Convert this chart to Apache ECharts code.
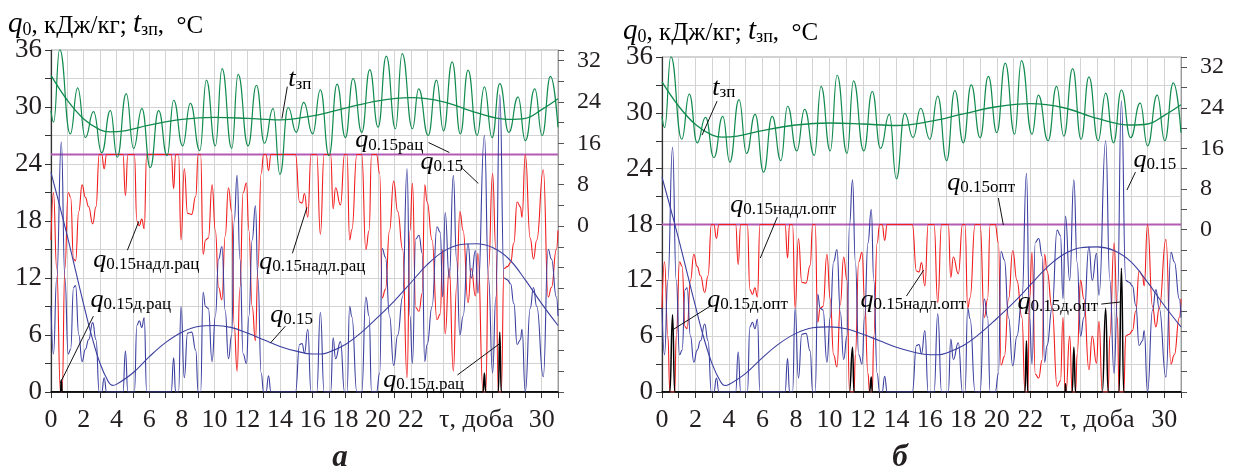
<!DOCTYPE html>
<html><head><meta charset="utf-8">
<script src="https://cdn.jsdelivr.net/npm/echarts@6/dist/echarts.min.js"></script>
<style>html,body{margin:0;padding:0;background:#fff}#c{width:1233px;height:471px}</style>
</head><body><div id="c"></div>
<script>
// ---------------- data (days, values) ----------------
const xLabelDays = [0,2,4,6,8,10,12,14,16,18,20,22,26,30];
const xLabelTexts = ['0','2','4','6','8','10','12','14','16','18','20','22','τ, доба','30'];
const leftTicks = [0,6,12,18,24,30,36];
const rightTicks = [0,8,16,24,32];

// t_зп (right axis), daily oscillation: troughs and peaks
const tzp = [[0,22.3],[0.16,20.1],[0.53,34.1],[1.18,17.8],[1.63,26.7],[2.1,17.1],[2.6,22.1],[3.1,14.2],[3.63,22.3],[4.05,13.3],[4.6,25.6],[5.05,15],[5.56,22.7],[6.07,11.3],[6.58,22.3],[7.1,13.6],[7.5,24.3],[8.05,15.5],[8.52,23.7],[9.1,14.6],[9.5,28.2],[10.05,15.5],[10.46,30.4],[11.05,15],[11.44,29.3],[12.05,15.5],[12.56,27.2],[13.05,16],[13.58,22.7],[14.0,10],[14.5,22.9],[15.0,18.1],[15.45,23.9],[16.0,17.8],[16.47,26.3],[17.0,13.6],[17.49,27.4],[18.0,17.1],[18.47,28.5],[19.0,18.1],[19.49,30.2],[20.0,19.1],[20.5,32.8],[21.06,18.8],[21.47,33.3],[22.1,18.8],[22.48,26.5],[23.06,17.5],[23.57,28.2],[24.0,18.4],[24.53,31.7],[25.03,17.8],[25.5,30.1],[26.05,17.5],[26.5,26.9],[26.97,17.1],[27.44,27.5],[27.99,18.1],[28.56,24.9],[29.0,16.5],[29.58,26.5],[30.03,17.5],[30.54,28.9],[31,19.1]];
// t_зп smoothed (right axis)
const tzpSmooth = [[0,29.1],[1,24.3],[2,20.7],[3,18.6],[3.6,18.2],[4.5,18.4],[6,19.5],[8,20.6],[10,21.0],[12,20.8],[14,20.5],[16,21.3],[18,22.8],[20,24.2],[22,24.8],[24,24.0],[26,21.9],[28,20.6],[29,20.8],[30,22.5],[31,24.6]];
// q0.15 (left axis)
const q015 = [[0,9],[0.15,4],[0.35,12],[0.63,26.3],[0.85,12],[1.05,4],[1.2,4.5],[1.38,11],[1.5,11.2],[1.7,6],[1.9,3.2],[2.1,4.5],[2.3,5.5],[2.55,7.3],[2.75,5.5],[2.95,0],[3.1,0],[3.25,1.5],[3.4,0],[4.4,0],[4.55,4.3],[4.7,0],[5.1,0],[5.25,7],[5.4,7.5],[5.55,6.8],[5.7,7.8],[5.85,0],[7.35,0],[7.5,3.6],[7.62,0],[7.8,0],[7.95,9],[8.15,1.5],[8.35,6.2],[8.6,6.3],[8.85,4.4],[9.0,0],[9.15,0],[9.3,10.5],[9.45,9],[9.62,8.8],[9.85,3.2],[10.05,8],[10.25,14],[10.45,15.3],[10.65,8.6],[10.85,3.5],[11.05,6],[11.2,18],[11.38,22.8],[11.55,14],[11.75,4],[11.95,3],[12.1,8],[12.3,16],[12.5,19.6],[12.65,12],[12.85,2],[13.0,0],[13.15,0],[13.3,1.7],[13.45,0],[14.95,0],[15.2,5],[15.35,5.1],[15.5,4.1],[15.7,6.6],[15.9,0],[16.25,0],[16.47,8.4],[16.7,0],[17.1,0],[17.25,5.7],[17.4,3.5],[17.7,5.3],[17.95,0],[18.1,0],[18.26,9],[18.4,7.9],[18.7,0],[19.0,0],[19.25,10],[19.45,8],[19.6,0],[19.9,0],[20.1,2],[20.25,15.1],[20.45,14.2],[20.7,8],[20.95,2.8],[21.2,6],[21.5,10],[21.77,23.5],[21.95,8],[22.1,3],[22.3,16.1],[22.5,16.5],[22.7,14.6],[22.85,3.2],[23.0,5],[23.3,9],[23.6,17.4],[23.8,16.8],[23.95,10],[24.1,18.9],[24.35,12],[24.6,22.8],[24.8,13.9],[25.0,6],[25.2,8],[25.5,15.6],[25.7,12],[25.95,14.9],[26.1,10.4],[26.5,27],[26.75,12],[27.0,2],[27.2,10],[27.44,31.3],[27.7,12],[27.9,11.8],[28.1,11.4],[28.3,9.3],[28.5,5],[28.7,5.5],[28.8,6.6],[29.0,0],[29.3,8.8],[29.5,11],[29.7,9],[30.1,1.6],[30.4,15],[30.6,14],[30.9,10],[31,8]];
// q0.15 smoothed (left axis)
const q015Smooth = [[0,23.1],[0.5,19.8],[1,16.4],[1.5,12.8],[2,9.2],[2.5,5.8],[3,3.0],[3.5,1.1],[3.75,0.7],[4,0.8],[5,2.0],[6,3.7],[7,5.2],[8,6.3],[9,6.9],[10,7.0],[11,6.8],[12,6.2],[13,5.5],[14,4.8],[15,4.3],[16,4.0],[16.5,4.0],[17,4.2],[18,5.0],[19,6.3],[20,7.9],[21,9.6],[22,11.5],[23,13.4],[24,14.8],[25,15.5],[26,15.6],[27,15.2],[28,14.0],[29,11.8],[30,9.3],[31,7.0]];
// panel a: rational level, excess, deficit
const qRacLevel = [[0,25],[31,25]];
const qNadlRac = [[0,16],[0.15,21],[0.35,13],[0.58,0],[0.68,0],[0.85,13],[1.05,21],[1.2,20.5],[1.38,14],[1.5,13.8],[1.7,19],[1.9,21.8],[2.1,20.5],[2.3,19.5],[2.55,17.7],[2.75,19.5],[2.95,25],[3.1,25],[3.25,23.5],[3.4,25],[4.4,25],[4.55,20.7],[4.7,25],[5.1,25],[5.25,18],[5.4,17.5],[5.55,18.2],[5.7,17.2],[5.85,25],[7.35,25],[7.5,21.4],[7.62,25],[7.8,25],[7.95,16],[8.15,23.5],[8.35,18.8],[8.6,18.7],[8.85,20.6],[9.0,25],[9.15,25],[9.3,14.5],[9.45,16],[9.62,16.2],[9.85,21.8],[10.05,17],[10.25,11],[10.45,9.7],[10.65,16.4],[10.85,21.5],[11.05,19],[11.2,7],[11.38,2.2],[11.55,11],[11.75,21],[11.95,22],[12.1,17],[12.3,9],[12.5,5.4],[12.65,13],[12.85,23],[13.0,25],[13.15,25],[13.3,23.3],[13.45,25],[14.95,25],[15.2,20],[15.35,19.9],[15.5,20.9],[15.7,18.4],[15.9,25],[16.25,25],[16.47,16.6],[16.7,25],[17.1,25],[17.25,19.3],[17.4,21.5],[17.7,19.7],[17.95,25],[18.1,25],[18.26,16],[18.4,17.1],[18.7,25],[19.0,25],[19.25,15],[19.45,17],[19.6,25],[19.9,25],[20.1,23],[20.25,9.9],[20.45,10.8],[20.7,17],[20.95,22.2],[21.2,19],[21.5,15],[21.77,1.5],[21.95,17],[22.1,22],[22.3,8.9],[22.5,8.5],[22.7,10.4],[22.85,21.8],[23.0,20],[23.3,16],[23.6,7.6],[23.8,8.2],[23.95,15],[24.1,6.1],[24.35,13],[24.6,2.2],[24.8,11.1],[25.0,19],[25.2,17],[25.5,9.4],[25.7,13],[25.95,10.1],[26.1,14.6],[26.42,0],[26.58,0],[26.75,13],[27.0,23],[27.2,15],[27.35,0],[27.53,0],[27.7,13],[27.9,13.2],[28.1,13.6],[28.3,15.7],[28.5,20],[28.7,19.5],[28.8,18.4],[29.0,25],[29.3,16.2],[29.5,14],[29.7,16],[30.1,23.4],[30.4,10],[30.6,11],[30.9,15],[31,17]];
const qDRac = [[0,0],[0.58,0],[0.63,1.3],[0.68,0],[26.42,0],[26.5,2],[26.58,0],[27.35,0],[27.44,6.3],[27.53,0],[31,0]];
// panel b: optimal level, excess, deficit
const qOptLevel = [[0,18],[31,18]];
const qNadlOpt = [[0,9],[0.15,14],[0.35,6],[0.47,0],[0.76,0],[0.85,6],[1.05,14],[1.2,13.5],[1.38,7],[1.5,6.8],[1.7,12],[1.9,14.8],[2.1,13.5],[2.3,12.5],[2.55,10.7],[2.75,12.5],[2.95,18],[3.1,18],[3.25,16.5],[3.4,18],[4.4,18],[4.55,13.7],[4.7,18],[5.1,18],[5.25,11],[5.4,10.5],[5.55,11.2],[5.7,10.2],[5.85,18],[7.35,18],[7.5,14.4],[7.62,18],[7.8,18],[7.95,9],[8.15,16.5],[8.35,11.8],[8.6,11.7],[8.85,13.6],[9.0,18],[9.15,18],[9.3,7.5],[9.45,9],[9.62,9.2],[9.85,14.8],[10.05,10],[10.25,4],[10.45,2.7],[10.65,9.4],[10.85,14.5],[11.05,12],[11.2,0],[11.47,0],[11.55,4],[11.75,14],[11.95,15],[12.1,10],[12.3,2],[12.4,0],[12.56,0],[12.65,6],[12.85,16],[13.0,18],[13.15,18],[13.3,16.3],[13.45,18],[14.95,18],[15.2,13],[15.35,12.9],[15.5,13.9],[15.7,11.4],[15.9,18],[16.25,18],[16.47,9.6],[16.7,18],[17.1,18],[17.25,12.3],[17.4,14.5],[17.7,12.7],[17.95,18],[18.1,18],[18.26,9],[18.4,10.1],[18.7,18],[19.0,18],[19.25,8],[19.45,10],[19.6,18],[19.9,18],[20.1,16],[20.25,2.9],[20.45,3.8],[20.7,10],[20.95,15.2],[21.2,12],[21.5,8],[21.68,0],[21.85,0],[21.95,10],[22.1,15],[22.3,1.9],[22.5,1.5],[22.7,3.4],[22.85,14.8],[23.0,13],[23.3,9],[23.6,0.6],[23.8,1.2],[23.95,8],[24.08,0],[24.13,0],[24.35,6],[24.5,0],[24.7,0],[24.8,4.1],[25.0,12],[25.2,10],[25.5,2.4],[25.7,6],[25.95,3.1],[26.1,7.6],[26.3,0],[26.65,0],[26.75,6],[27.0,16],[27.2,8],[27.3,0],[27.58,0],[27.7,6],[27.9,6.2],[28.1,6.6],[28.3,8.7],[28.5,13],[28.7,12.5],[28.8,11.4],[29.0,18],[29.3,9.2],[29.5,7],[29.7,9],[30.1,16.4],[30.4,3],[30.6,4],[30.9,8],[31,10]];
const qDOpt = [[0,0],[0.47,0],[0.63,8.3],[0.76,0],[11.2,0],[11.38,4.8],[11.47,0],[12.4,0],[12.5,1.6],[12.56,0],[21.68,0],[21.77,5.5],[21.85,0],[24.08,0],[24.1,0.9],[24.13,0],[24.5,0],[24.6,4.8],[24.7,0],[26.3,0],[26.5,9],[26.65,0],[27.3,0],[27.44,13.3],[27.58,0],[31,0]];

// ---------------- annotations (data coordinates, left axis) ----------------
const notes = [
  {p:0, m:'t', s:'зп', at:[14.51,32.88], line:[[14.45,32.14],[14.12,28.78]]},
  {p:0, m:'q', s:'0.15рац', at:[18.61,26.47], line:[[23.08,26.26],[24.36,25.21]]},
  {p:0, m:'q', s:'0.15', at:[22.59,24.16], line:[[25.16,23.53],[26.13,21.95]]},
  {p:0, m:'q', s:'0.15надл.рац', at:[2.59,13.87], line:[[4.67,14.92],[5.37,17.96]]},
  {p:0, m:'q', s:'0.15надл.рац', at:[12.74,13.66], line:[[14.76,14.6],[15.65,19.43]]},
  {p:0, m:'q', s:'0.15д.рац', at:[2.41,9.66], line:[[2.59,7.98],[0.57,0.95]]},
  {p:0, m:'q', s:'0.15', at:[13.41,8.1], line:[[14.33,6.93],[13.41,5.15]]},
  {p:0, m:'q', s:'0.15д.рац', at:[20.32,1.26], line:[[24.85,1.79],[27.48,5.15]]},
  {p:1, m:'t', s:'зп', at:[3.0,32.65], line:[[3.29,31.26],[2.39,27.6]]},
  {p:1, m:'q', s:'0.15надл.опт', at:[4.08,20.09], line:[[6.89,18.8],[5.87,14.39]]},
  {p:1, m:'q', s:'0.15д.опт', at:[2.7,9.88], line:[[2.89,9.24],[0.62,6.66]]},
  {p:1, m:'q', s:'0.15опт', at:[17.04,22.45], line:[[20.09,20.84],[20.39,17.94]]},
  {p:1, m:'q', s:'0.15', at:[28.16,24.92], line:[[28.28,23.63],[27.77,21.7]]},
  {p:1, m:'q', s:'0.15надл.опт', at:[11.85,9.88], line:[[14.6,10.31],[15.63,13.1]]},
  {p:1, m:'q', s:'0.15д.опт', at:[21.23,9.67], line:[[26.24,9.45],[27.38,9.67]]}
];

// ---------------- styling ----------------
const FONT = '"Liberation Serif", "Times New Roman", serif';
const INK = '#231f20';
const GREEN = '#118a4e', BLUE = '#3b3f9f', RED = '#f21c1c', PURPLE = '#b35bb3', BLACK = '#000';
const RICH = {
  m: {fontFamily:FONT, fontStyle:'italic', fontSize:26, lineHeight:26, verticalAlign:'bottom', color:INK},
  s: {fontFamily:FONT, fontSize:17, lineHeight:17, verticalAlign:'bottom', color:INK},
  tm:{fontFamily:FONT, fontStyle:'italic', fontSize:29, lineHeight:28, verticalAlign:'bottom', color:INK},
  n: {fontFamily:FONT, fontSize:25, lineHeight:27, verticalAlign:'bottom', color:INK},
  ts:{fontFamily:FONT, fontSize:18, lineHeight:10, verticalAlign:'bottom', color:INK}
};

function xAxis(gi){
  return {gridIndex:gi, type:'value', min:0, max:31, interval:1,
    axisLine:{show:true, onZero:false, lineStyle:{color:'#111', width:1.6}},
    axisTick:{show:true, length:6, lineStyle:{color:'#333'}},
    splitLine:{show:true, lineStyle:{color:'#d3d3d3', width:1}},
    axisLabel:{fontFamily:FONT, fontSize:26, color:INK, margin:15,
      formatter:v=>{const i=xLabelDays.indexOf(v); return i<0?'':xLabelTexts[i];}}};
}
function yLeft(gi){
  return {gridIndex:gi, type:'value', position:'left', min:0, max:36, interval:3,
    axisLine:{show:true, lineStyle:{color:'#333', width:1.2}},
    axisTick:{show:true, length:6, lineStyle:{color:'#333'}},
    splitLine:{show:true, lineStyle:{color:'#d3d3d3', width:1}},
    axisLabel:{fontFamily:FONT, fontSize:27, color:INK, margin:9,
      formatter:v=>leftTicks.indexOf(v)<0?'':String(v)}};
}
function yRight(gi){
  return {gridIndex:gi, type:'value', position:'right', min:-32, max:34, interval:4,
    axisLine:{show:true, lineStyle:{color:'#9a9a9a', width:1}},
    axisTick:{show:true, length:6, lineStyle:{color:'#555'}},
    splitLine:{show:false},
    axisLabel:{fontFamily:FONT, fontSize:24, color:INK, margin:19,
      formatter:v=>rightTicks.indexOf(v)<0?'':String(v)}};
}
function ser(data, xi, yi, color, width, mono, z){
  return {type:'line', data:data, xAxisIndex:xi, yAxisIndex:yi, showSymbol:false, symbol:'none',
    smooth: mono ? 0.5 : 0.4, smoothMonotone: mono ? 'x' : undefined,
    lineStyle:{color:color, width:width}, z:z, silent:true, clip:true};
}
function panelSeries(p, level, nadl, d){
  const xi = p, yl = p*2, yr = p*2+1;
  return [
    ser(level, xi, yl, PURPLE, 2.2, true, 2),
    ser(nadl, xi, yl, RED, 1.1, true, 3),
    ser(d, xi, yl, BLACK, 1.5, true, 4),
    ser(q015Smooth, xi, yl, BLUE, 1.1, false, 5),
    ser(q015, xi, yl, BLUE, 1.1, true, 6),
    ser(tzp, xi, yr, GREEN, 1.2, true, 7),
    ser(tzpSmooth, xi, yr, GREEN, 1.3, false, 8)
  ];
}

const chart = echarts.init(document.getElementById('c'), null, {renderer:'canvas'});
const option = {
  animation:false,
  backgroundColor:'#fff',
  grid:[
    {left:51, right:675, top:50, bottom:79, show:true, borderColor:'#a5a5a5', borderWidth:1, backgroundColor:'transparent'},
    {left:662, right:52, top:57, bottom:79, show:true, borderColor:'#a5a5a5', borderWidth:1, backgroundColor:'transparent'}
  ],
  xAxis:[xAxis(0), xAxis(1)],
  yAxis:[yLeft(0), yRight(0), yLeft(1), yRight(1)],
  series:[].concat(panelSeries(0, qRacLevel, qNadlRac, qDRac), panelSeries(1, qOptLevel, qNadlOpt, qDOpt))
};
chart.setOption(option);

function graphics(){
  const els = [];
  notes.forEach(n=>{
    const f = n.p===0 ? {xAxisIndex:0, yAxisIndex:0} : {xAxisIndex:1, yAxisIndex:2};
    const t = chart.convertToPixel(f, n.at);
    els.push({type:'text', x:t[0], y:t[1], z:100,
      style:{text:'{m|'+n.m+'}{s|'+n.s+'}', rich:RICH, align:'left', verticalAlign:'middle'}});
    const a = chart.convertToPixel(f, n.line[0]), b = chart.convertToPixel(f, n.line[1]);
    els.push({type:'line', z:100, shape:{x1:a[0],y1:a[1],x2:b[0],y2:b[1]}, style:{stroke:'#111', lineWidth:1}});
  });
  const title = '{tm|q}{ts|0}{n|, кДж/кг; }{tm|t}{ts|зп}{n|,  °C}';
  els.push({type:'text', x:8, y:25, z:100, style:{text:title, rich:RICH, align:'left', verticalAlign:'middle'}});
  els.push({type:'text', x:623, y:32, z:100, style:{text:title, rich:RICH, align:'left', verticalAlign:'middle'}});
  els.push({type:'text', x:340, y:458, z:100, style:{text:'а', font:'italic bold 31px '+FONT, fill:INK, align:'center', verticalAlign:'middle'}});
  els.push({type:'text', x:900, y:458, z:100, style:{text:'б', font:'italic bold 31px '+FONT, fill:INK, align:'center', verticalAlign:'middle'}});
  return els;
}
chart.setOption({graphic:graphics()});
</script></body></html>
